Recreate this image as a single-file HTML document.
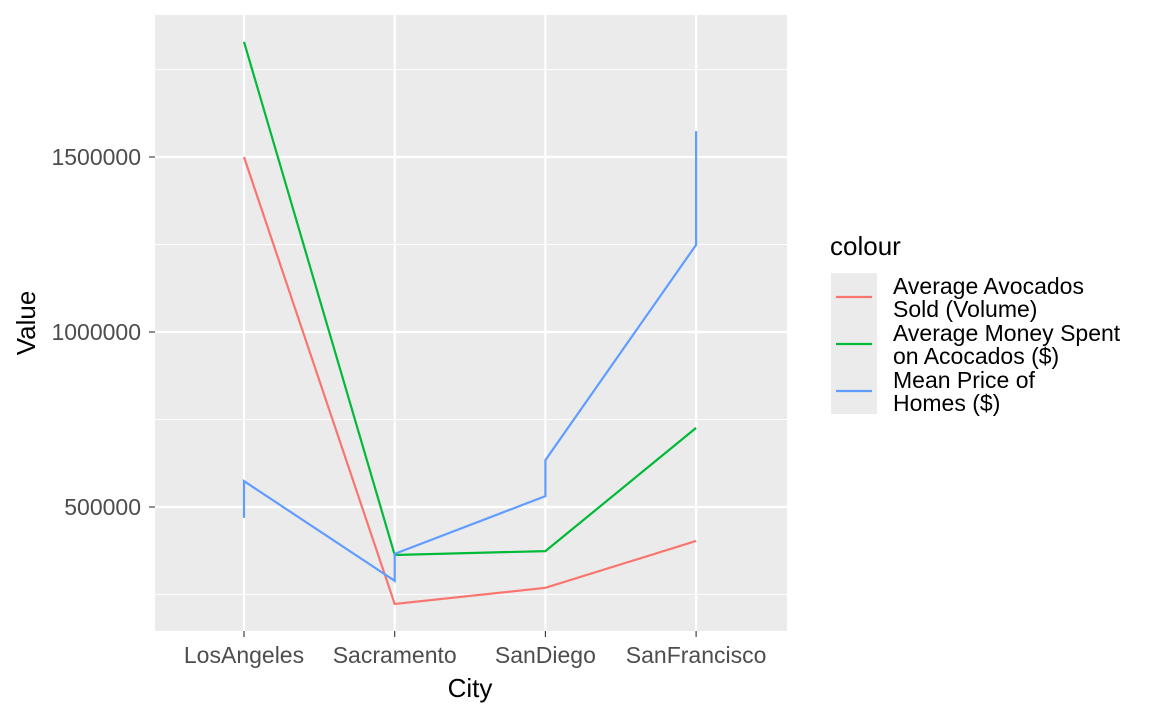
<!DOCTYPE html>
<html><head><meta charset="utf-8"><style>
body{margin:0;background:#fff;font-family:"Liberation Sans",Arial,sans-serif}
</style></head><body>
<svg width="1160" height="716" xmlns="http://www.w3.org/2000/svg" font-family="Liberation Sans, Arial, sans-serif">
<rect x="155" y="15" width="632" height="616" fill="#ebebeb"/>
<g id="grid"></g>
<g id="lines"></g>
<g id="axes"></g>
<text x="470" y="697" font-size="26" text-anchor="middle" fill="#000">City</text>
<text transform="translate(35,323) rotate(-90)" font-size="26" text-anchor="middle" fill="#000">Value</text>
<g>
<text x="830" y="255" font-size="26" fill="#000">colour</text>
<rect x="831" y="273" width="46" height="141" fill="#ebebeb"/>
<line x1="836" x2="872" y1="297" y2="297" stroke="#F8766D" stroke-width="2.2"/>
<line x1="836" x2="872" y1="344" y2="344" stroke="#00BA38" stroke-width="2.2"/>
<line x1="836" x2="872" y1="391" y2="391" stroke="#619CFF" stroke-width="2.2"/>
<g font-size="23" fill="#000">
<text x="893" y="294"><tspan x="893">Average Avocados</tspan><tspan x="893" dy="23">Sold (Volume)</tspan></text>
<text x="893" y="341"><tspan x="893">Average Money Spent</tspan><tspan x="893" dy="23">on Acocados ($)</tspan></text>
<text x="893" y="388"><tspan x="893">Mean Price of</tspan><tspan x="893" dy="23">Homes ($)</tspan></text>
</g></g>
</svg>
<script>
const categories=["LosAngeles","Sacramento","SanDiego","SanFrancisco"];
const volume=[1500000,223000,269000,403000];
const money=[1829000,363000,374000,726000];
const homesCity=[0,0,1,1,2,2,3,3];
const homes=[469000,574000,289000,366000,531000,634000,1249000,1574000];
const yTicks=[500000,1000000,1500000];
const yMinor=[250000,750000,1250000,1750000];
const NS="http://www.w3.org/2000/svg";
const xs=i=>244+i*150.7;
const ys=v=>507-(v-500000)*175/500000;
function mk(p,t,a,n){const e=document.createElementNS(NS,t);for(const k in a)e.setAttribute(k,a[k]);


p.appendChild(e);return e;}
const g=document.getElementById('grid'),L=document.getElementById('lines'),A=document.getElementById('axes');
yMinor.forEach(v=>mk(g,'line',{x1:155,x2:787,y1:ys(v),y2:ys(v),stroke:'#fff','stroke-width':1.1},'y-minor-gridline'));
yTicks.forEach(v=>{mk(g,'line',{x1:155,x2:787,y1:ys(v),y2:ys(v),stroke:'#fff','stroke-width':2.2},'y-gridline');
mk(A,'line',{x1:149,x2:155,y1:ys(v),y2:ys(v),stroke:'#333','stroke-width':1.1},'y-tick');
const t=mk(A,'text',{x:141,y:ys(v)+8,'font-size':23,'text-anchor':'end',fill:'#4d4d4d'},'y-tick-label');t.textContent=v;});
categories.forEach((c,i)=>{mk(g,'line',{x1:xs(i),x2:xs(i),y1:15,y2:631,stroke:'#fff','stroke-width':2.2},'x-gridline');
mk(A,'line',{x1:xs(i),x2:xs(i),y1:631,y2:637,stroke:'#333','stroke-width':1.1},'x-tick');
const t=mk(A,'text',{x:xs(i),y:663,'font-size':23,'text-anchor':'middle',fill:'#4d4d4d'},'x-tick-label');t.textContent=c;});
function line(px,vals,col,n){mk(L,'polyline',{points:vals.map((v,i)=>xs(px[i])+','+ys(v)).join(' '),fill:'none',stroke:col,'stroke-width':2.2},n);}
line([0,1,2,3],volume,'#F8766D','line-volume');
line([0,1,2,3],money,'#00BA38','line-money');
line(homesCity,homes,'#619CFF','line-homes');
</script>
</body></html>
